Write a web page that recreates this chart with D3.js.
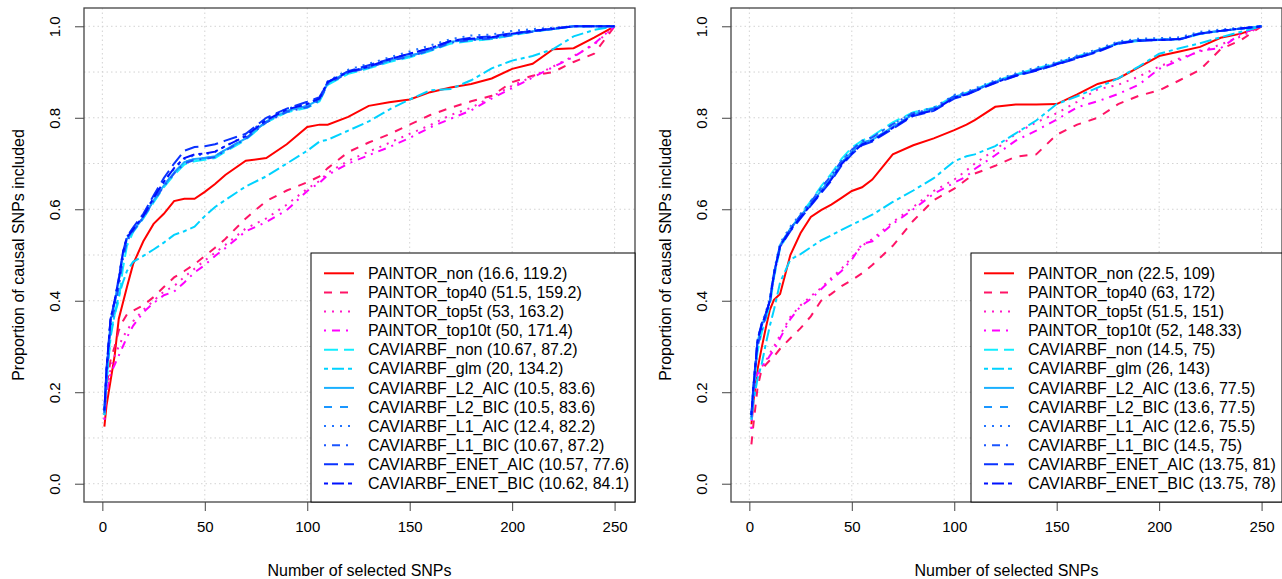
<!DOCTYPE html>
<html>
<head>
<meta charset="utf-8">
<script src="https://cdn.jsdelivr.net/npm/d3@7"></script>
<style>
  body { margin: 0; background: #fff; }
  text { font-family: "Liberation Sans", Arial, sans-serif; fill: #000; }
</style>
</head>
<body>
<svg id="chart" width="1282" height="579"></svg>
<script>
// x positions (number of selected SNPs) where the curves were read
const snps = [1, 2, 4, 6, 8, 10, 12, 15, 20, 25, 30, 35, 40, 45, 50, 55, 60, 70, 80, 90, 100, 106, 110, 120, 130, 140, 150, 160, 170, 180, 190, 200, 210, 220, 230, 240, 250];

const xTicks = [0, 50, 100, 150, 200, 250];
const yTicks = [0, 0.2, 0.4, 0.6, 0.8, 1.0];
const yGrid = [0, 0.1, 0.2, 0.3, 0.4, 0.5, 0.6, 0.7, 0.8, 0.9, 1.0];

const methods = ["PAINTOR_non", "PAINTOR_top40", "PAINTOR_top5t", "PAINTOR_top10t",
  "CAVIARBF_non", "CAVIARBF_glm", "CAVIARBF_L2_AIC", "CAVIARBF_L2_BIC",
  "CAVIARBF_L1_AIC", "CAVIARBF_L1_BIC", "CAVIARBF_ENET_AIC", "CAVIARBF_ENET_BIC"];
const leftStats = ["(16.6, 119.2)", "(51.5, 159.2)", "(53, 163.2)", "(50, 171.4)",
  "(10.67, 87.2)", "(20, 134.2)", "(10.5, 83.6)", "(10.5, 83.6)",
  "(12.4, 82.2)", "(10.67, 87.2)", "(10.57, 77.6)", "(10.62, 84.1)"];
const rightStats = ["(22.5, 109)", "(63, 172)", "(51.5, 151)", "(52, 148.33)",
  "(14.5, 75)", "(26, 143)", "(13.6, 77.5)", "(13.6, 77.5)",
  "(12.6, 75.5)", "(14.5, 75)", "(13.75, 81)", "(13.75, 78)"];

const lineColors = ["#ff0000", "#ff1466", "#ff1ac8", "#ff00ff", "#11eeff", "#00d2ff",
  "#1ab0ff", "#1a96ff", "#2274ff", "#1a55ff", "#0a33ff", "#0011ff"];
// R lty 1..6 at lwd 2
const lineDash = [null, "8,8", "2,6", "2,6,8,6", "14,6", "4,4,12,4",
  null, "8,8", "2,6", "2,6,8,6", "14,6", "4,4,12,4"];

// left panel
const leftPaintorNon = [0.125, 0.17, 0.225, 0.28, 0.36, 0.395, 0.43, 0.48, 0.53, 0.568, 0.59, 0.618, 0.623, 0.623, 0.638, 0.655, 0.675, 0.706, 0.712, 0.742, 0.78, 0.785, 0.785, 0.802, 0.826, 0.834, 0.84, 0.856, 0.866, 0.874, 0.886, 0.907, 0.918, 0.95, 0.952, 0.975, 1.0];
const leftPaintorTop40 = [0.15, 0.21, 0.27, 0.30, 0.335, 0.355, 0.37, 0.378, 0.39, 0.408, 0.43, 0.451, 0.465, 0.48, 0.498, 0.516, 0.535, 0.58, 0.618, 0.641, 0.659, 0.672, 0.69, 0.725, 0.746, 0.764, 0.785, 0.806, 0.822, 0.836, 0.848, 0.878, 0.892, 0.9, 0.922, 0.94, 1.0];
const leftPaintorTop5t = [0.14, 0.2, 0.25, 0.28, 0.30, 0.32, 0.335, 0.355, 0.38, 0.40, 0.42, 0.432, 0.452, 0.47, 0.488, 0.505, 0.522, 0.558, 0.58, 0.61, 0.645, 0.662, 0.68, 0.706, 0.726, 0.745, 0.765, 0.784, 0.806, 0.822, 0.846, 0.87, 0.89, 0.912, 0.935, 0.96, 1.0];
const leftPaintorTop10t = [0.14, 0.2, 0.24, 0.26, 0.28, 0.3, 0.32, 0.345, 0.375, 0.395, 0.412, 0.42, 0.44, 0.462, 0.478, 0.498, 0.515, 0.552, 0.572, 0.598, 0.64, 0.658, 0.675, 0.7, 0.718, 0.736, 0.756, 0.779, 0.798, 0.816, 0.842, 0.865, 0.888, 0.911, 0.933, 0.962, 1.0];
const leftCaviarNon = [0.15, 0.22, 0.33, 0.37, 0.40, 0.47, 0.52, 0.55, 0.58, 0.615, 0.648, 0.675, 0.698, 0.705, 0.708, 0.712, 0.726, 0.752, 0.79, 0.812, 0.822, 0.836, 0.872, 0.896, 0.908, 0.922, 0.932, 0.946, 0.962, 0.968, 0.972, 0.98, 0.988, 0.994, 1.0, 1.0, 1.0];
const leftCaviarGlm = [0.15, 0.22, 0.32, 0.37, 0.41, 0.44, 0.465, 0.485, 0.498, 0.512, 0.527, 0.544, 0.552, 0.562, 0.585, 0.605, 0.62, 0.65, 0.672, 0.7, 0.728, 0.748, 0.752, 0.772, 0.792, 0.818, 0.84, 0.86, 0.863, 0.882, 0.908, 0.925, 0.935, 0.95, 0.978, 0.992, 1.0];
const leftL2Aic = [0.159, 0.24, 0.356, 0.395, 0.444, 0.50, 0.535, 0.553, 0.582, 0.619, 0.652, 0.68, 0.703, 0.71, 0.712, 0.716, 0.73, 0.755, 0.792, 0.815, 0.826, 0.84, 0.876, 0.90, 0.91, 0.925, 0.935, 0.948, 0.966, 0.971, 0.974, 0.982, 0.989, 0.994, 1.0, 1.0, 1.0];
const leftL2Bic = [0.159, 0.24, 0.356, 0.395, 0.444, 0.50, 0.535, 0.553, 0.582, 0.619, 0.652, 0.68, 0.703, 0.71, 0.712, 0.716, 0.73, 0.755, 0.792, 0.815, 0.826, 0.84, 0.876, 0.90, 0.91, 0.925, 0.935, 0.948, 0.966, 0.971, 0.974, 0.982, 0.989, 0.994, 1.0, 1.0, 1.0];
const leftL1Aic = [0.16, 0.245, 0.36, 0.40, 0.45, 0.505, 0.54, 0.558, 0.588, 0.625, 0.66, 0.688, 0.71, 0.718, 0.72, 0.725, 0.738, 0.762, 0.798, 0.82, 0.83, 0.845, 0.88, 0.905, 0.918, 0.932, 0.945, 0.958, 0.972, 0.98, 0.982, 0.99, 0.994, 0.997, 1.0, 1.0, 1.0];
const leftL1Bic = [0.155, 0.23, 0.345, 0.385, 0.43, 0.49, 0.53, 0.552, 0.582, 0.618, 0.65, 0.678, 0.7, 0.708, 0.71, 0.714, 0.728, 0.754, 0.79, 0.813, 0.823, 0.838, 0.874, 0.898, 0.91, 0.924, 0.934, 0.947, 0.964, 0.97, 0.973, 0.981, 0.988, 0.994, 1.0, 1.0, 1.0];
const leftEnetAic = [0.16, 0.25, 0.36, 0.40, 0.45, 0.505, 0.54, 0.56, 0.59, 0.63, 0.668, 0.70, 0.728, 0.736, 0.738, 0.742, 0.75, 0.765, 0.80, 0.82, 0.835, 0.845, 0.878, 0.902, 0.915, 0.928, 0.94, 0.952, 0.968, 0.975, 0.978, 0.985, 0.99, 0.995, 1.0, 1.0, 1.0];
const leftEnetBic = [0.16, 0.25, 0.36, 0.40, 0.445, 0.505, 0.538, 0.556, 0.585, 0.625, 0.66, 0.69, 0.712, 0.72, 0.722, 0.726, 0.738, 0.76, 0.795, 0.818, 0.83, 0.842, 0.878, 0.9, 0.912, 0.928, 0.94, 0.952, 0.968, 0.973, 0.976, 0.984, 0.99, 0.995, 1.0, 1.0, 1.0];

// right panel
const rightPaintorNon = [0.13, 0.18, 0.25, 0.297, 0.34, 0.38, 0.402, 0.415, 0.5, 0.548, 0.583, 0.598, 0.61, 0.625, 0.64, 0.648, 0.665, 0.72, 0.74, 0.755, 0.773, 0.785, 0.795, 0.824, 0.829, 0.829, 0.83, 0.851, 0.874, 0.886, 0.91, 0.935, 0.945, 0.955, 0.975, 0.984, 1.0];
const rightPaintorTop40 = [0.086, 0.13, 0.21, 0.25, 0.26, 0.27, 0.278, 0.295, 0.318, 0.34, 0.366, 0.40, 0.415, 0.432, 0.445, 0.46, 0.478, 0.52, 0.575, 0.62, 0.645, 0.665, 0.678, 0.695, 0.715, 0.72, 0.763, 0.785, 0.8, 0.83, 0.848, 0.86, 0.882, 0.905, 0.95, 0.97, 1.0];
const rightPaintorTop5t = [0.12, 0.19, 0.235, 0.255, 0.268, 0.285, 0.3, 0.325, 0.365, 0.39, 0.41, 0.428, 0.45, 0.47, 0.495, 0.52, 0.535, 0.572, 0.605, 0.64, 0.665, 0.685, 0.7, 0.73, 0.765, 0.79, 0.81, 0.835, 0.862, 0.872, 0.89, 0.912, 0.93, 0.945, 0.96, 0.978, 1.0];
const rightPaintorTop10t = [0.12, 0.2, 0.24, 0.257, 0.265, 0.28, 0.292, 0.318, 0.36, 0.388, 0.404, 0.425, 0.446, 0.465, 0.49, 0.524, 0.53, 0.568, 0.6, 0.634, 0.658, 0.672, 0.688, 0.718, 0.75, 0.772, 0.796, 0.823, 0.836, 0.852, 0.872, 0.907, 0.926, 0.947, 0.952, 0.984, 1.0];
const rightCaviarNon = [0.14, 0.2, 0.29, 0.33, 0.36, 0.39, 0.45, 0.515, 0.556, 0.588, 0.618, 0.65, 0.678, 0.71, 0.735, 0.75, 0.76, 0.79, 0.812, 0.822, 0.848, 0.855, 0.862, 0.88, 0.895, 0.908, 0.92, 0.934, 0.948, 0.962, 0.968, 0.97, 0.972, 0.983, 0.99, 0.995, 1.0];
const rightCaviarGlm = [0.14, 0.18, 0.23, 0.261, 0.305, 0.345, 0.38, 0.44, 0.49, 0.502, 0.517, 0.532, 0.543, 0.555, 0.566, 0.577, 0.588, 0.616, 0.641, 0.668, 0.705, 0.716, 0.72, 0.738, 0.766, 0.794, 0.83, 0.847, 0.866, 0.886, 0.912, 0.94, 0.952, 0.963, 0.976, 0.988, 1.0];
const rightL2Aic = [0.15, 0.21, 0.31, 0.345, 0.37, 0.40, 0.46, 0.522, 0.558, 0.585, 0.613, 0.64, 0.668, 0.702, 0.725, 0.745, 0.752, 0.78, 0.808, 0.818, 0.846, 0.853, 0.86, 0.878, 0.893, 0.905, 0.918, 0.932, 0.946, 0.964, 0.97, 0.971, 0.972, 0.985, 0.99, 0.995, 1.0];
const rightL2Bic = [0.15, 0.21, 0.31, 0.345, 0.37, 0.40, 0.46, 0.522, 0.558, 0.585, 0.613, 0.64, 0.668, 0.702, 0.725, 0.745, 0.752, 0.78, 0.808, 0.818, 0.846, 0.853, 0.86, 0.878, 0.893, 0.905, 0.918, 0.932, 0.946, 0.964, 0.97, 0.971, 0.972, 0.985, 0.99, 0.995, 1.0];
const rightL1Aic = [0.155, 0.215, 0.315, 0.35, 0.375, 0.405, 0.465, 0.526, 0.562, 0.59, 0.618, 0.646, 0.674, 0.706, 0.73, 0.75, 0.758, 0.786, 0.812, 0.822, 0.85, 0.857, 0.864, 0.882, 0.897, 0.91, 0.922, 0.936, 0.95, 0.967, 0.973, 0.974, 0.976, 0.988, 0.993, 0.997, 1.0];
const rightL1Bic = [0.145, 0.2, 0.3, 0.335, 0.365, 0.395, 0.455, 0.518, 0.557, 0.587, 0.616, 0.646, 0.674, 0.706, 0.73, 0.748, 0.757, 0.786, 0.81, 0.82, 0.847, 0.854, 0.861, 0.879, 0.894, 0.906, 0.919, 0.933, 0.947, 0.963, 0.969, 0.97, 0.972, 0.984, 0.99, 0.995, 1.0];
const rightEnetAic = [0.15, 0.215, 0.315, 0.35, 0.372, 0.4, 0.458, 0.518, 0.552, 0.58, 0.608, 0.635, 0.662, 0.696, 0.72, 0.74, 0.748, 0.776, 0.804, 0.815, 0.842, 0.85, 0.858, 0.876, 0.891, 0.903, 0.916, 0.93, 0.944, 0.962, 0.968, 0.97, 0.971, 0.984, 0.99, 0.995, 1.0];
const rightEnetBic = [0.15, 0.212, 0.312, 0.347, 0.37, 0.4, 0.458, 0.52, 0.555, 0.582, 0.61, 0.637, 0.665, 0.699, 0.722, 0.742, 0.75, 0.778, 0.806, 0.816, 0.844, 0.851, 0.859, 0.877, 0.892, 0.904, 0.917, 0.931, 0.945, 0.963, 0.969, 0.97, 0.972, 0.984, 0.99, 0.995, 1.0];

const leftSeries = [leftPaintorNon, leftPaintorTop40, leftPaintorTop5t, leftPaintorTop10t,
  leftCaviarNon, leftCaviarGlm, leftL2Aic, leftL2Bic, leftL1Aic, leftL1Bic, leftEnetAic, leftEnetBic];
const rightSeries = [rightPaintorNon, rightPaintorTop40, rightPaintorTop5t, rightPaintorTop10t,
  rightCaviarNon, rightCaviarGlm, rightL2Aic, rightL2Bic, rightL1Aic, rightL1Bic, rightEnetAic, rightEnetBic];

const svg = d3.select("#chart");
const plotTop = 8, plotBottom = 502, plotW = 551;

const panels = [
  { x0: 84, series: leftSeries, stats: leftStats, legendX: 311 },
  { x0: 731, series: rightSeries, stats: rightStats, legendX: 971 }
];

panels.forEach((p, pi) => {
  const xScale = d3.scaleLinear()
    .domain([1 - 0.04 * 249, 250 + 0.04 * 249])
    .range([p.x0, p.x0 + plotW]);
  const yScale = d3.scaleLinear()
    .domain([-0.04, 1.04])
    .range([plotBottom, plotTop]);

  const g = svg.append("g");

  // dotted grid
  g.selectAll(".vgrid")
    .data(xTicks)
    .enter()
    .append("line")
    .attr("x1", d => xScale(d)).attr("x2", d => xScale(d))
    .attr("y1", plotTop).attr("y2", plotBottom)
    .attr("stroke", "#d3d3d3").attr("stroke-dasharray", "1.5,3");
  g.selectAll(".hgrid")
    .data(yGrid)
    .enter()
    .append("line")
    .attr("x1", p.x0).attr("x2", p.x0 + plotW)
    .attr("y1", d => yScale(d)).attr("y2", d => yScale(d))
    .attr("stroke", "#d3d3d3").attr("stroke-dasharray", "1.5,3");

  // curves, clipped to the plot region
  svg.append("clipPath").attr("id", "clip" + pi)
    .append("rect")
    .attr("x", p.x0).attr("y", plotTop).attr("width", plotW).attr("height", plotBottom - plotTop);

  const line = d3.line()
    .x((d, i) => xScale(snps[i]))
    .y(d => yScale(d));

  g.append("g")
    .attr("clip-path", `url(#clip${pi})`)
    .selectAll("path")
    .data(p.series)
    .enter()
    .append("path")
    .attr("d", line)
    .attr("fill", "none")
    .attr("stroke", (d, i) => lineColors[i])
    .attr("stroke-width", 2)
    .attr("stroke-dasharray", (d, i) => lineDash[i]);

  // axes
  const xAxis = g.append("g")
    .attr("transform", `translate(0, ${plotBottom})`)
    .call(d3.axisBottom(xScale).tickValues(xTicks).tickSize(9).tickFormat(d3.format("d")));
  xAxis.select(".domain").remove();
  xAxis.selectAll("line").attr("stroke", "#444");
  xAxis.selectAll("text")
    .attr("y", 30).attr("dy", "0")
    .style("font-size", "15px")
    .style("font-family", "Liberation Sans, Arial, sans-serif");

  const yAxis = g.append("g")
    .attr("transform", `translate(${p.x0}, 0)`)
    .call(d3.axisLeft(yScale).tickValues(yTicks).tickSize(9).tickFormat(d3.format(".1f")));
  yAxis.select(".domain").remove();
  yAxis.selectAll("line").attr("stroke", "#444");
  yAxis.selectAll("text")
    .attr("x", 0).attr("dy", "0.35em")
    .attr("text-anchor", "middle")
    .attr("transform", "translate(-29, 0) rotate(-90)")
    .style("font-size", "15px")
    .style("font-family", "Liberation Sans, Arial, sans-serif");

  // box around the plot
  g.append("rect")
    .attr("x", p.x0).attr("y", plotTop)
    .attr("width", plotW).attr("height", plotBottom - plotTop)
    .attr("fill", "none").attr("stroke", "#444").attr("stroke-width", 1.3);

  // axis titles
  g.append("text")
    .attr("x", p.x0 + plotW / 2).attr("y", 576)
    .attr("text-anchor", "middle")
    .style("font-size", "16px")
    .text("Number of selected SNPs");
  g.append("text")
    .attr("transform", `translate(${p.x0 - 66}, ${(plotTop + plotBottom) / 2}) rotate(-90)`)
    .attr("text-anchor", "middle")
    .attr("dy", "0.35em")
    .style("font-size", "16px")
    .text("Proportion of causal SNPs included");

  // legend (bottom right)
  const lg = g.append("g");
  lg.append("rect")
    .attr("x", p.legendX).attr("y", 253)
    .attr("width", p.x0 + plotW - p.legendX).attr("height", plotBottom - 253)
    .attr("fill", "#fff").attr("stroke", "#000").attr("stroke-width", 1);

  const rows = lg.selectAll(".row")
    .data(methods)
    .enter()
    .append("g")
    .attr("transform", (d, i) => `translate(${p.legendX}, ${273.3 + i * 19.1})`);
  rows.append("line")
    .attr("x1", 13).attr("x2", 43)
    .attr("stroke", (d, i) => lineColors[i])
    .attr("stroke-width", 2)
    .attr("stroke-dasharray", (d, i) => lineDash[i]);
  rows.append("text")
    .attr("x", 57).attr("dy", "0.35em")
    .style("font-size", "16px")
    .text((d, i) => d + " " + p.stats[i]);
});
</script>
</body>
</html>
